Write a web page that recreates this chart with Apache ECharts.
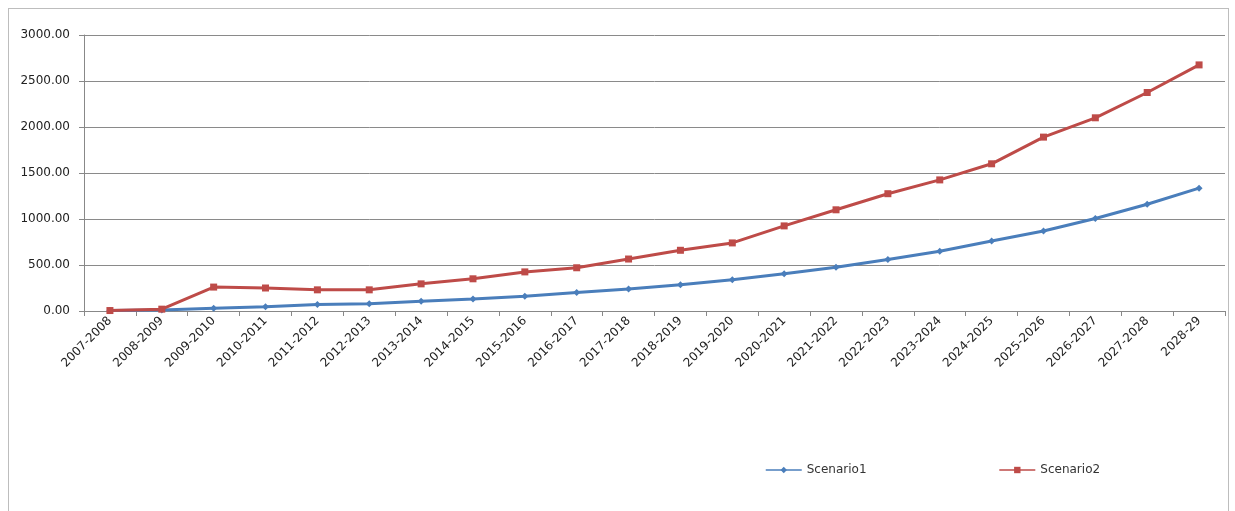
<!DOCTYPE html>
<html><head><meta charset="utf-8">
<script src="https://cdn.jsdelivr.net/npm/echarts@6/dist/echarts.min.js"></script>
<style>
html,body{margin:0;padding:0;background:#fff;}
#frame{position:absolute;left:8px;top:8px;width:1221px;height:510px;border:1px solid #bdbdbd;box-sizing:border-box;}
#c{position:absolute;left:0;top:0;width:1235px;height:511px;}
</style></head>
<body>
<div id="frame"></div>
<div id="c"></div>
<script>
const categories = ["2007-2008","2008-2009","2009-2010","2010-2011","2011-2012","2012-2013","2013-2014","2014-2015","2015-2016","2016-2017","2017-2018","2018-2019","2019-2020","2020-2021","2021-2022","2022-2023","2023-2024","2024-2025","2025-2026","2026-2027","2027-2028","2028-29"];
const scenario1 = [5,10,30,45,70,80,105,130,160,200,240,285,340,405,475,560,650,760,870,1005,1160,1335];
const scenario2 = [5,20,260,250,230,230,295,350,425,470,565,660,740,925,1100,1275,1425,1600,1890,2100,2375,2675];
const yTicks = {min:0, max:3000, interval:500};

const chart = echarts.init(document.getElementById('c'), null, {renderer:'canvas'});
chart.setOption({
  animation:false,
  textStyle:{fontFamily:'DejaVu Sans'},
  grid:{left:84, right:10, top:35, bottom:200, containLabel:false},
  legend:{
    left:760, top:459, itemWidth:36, itemHeight:8, itemGap:132,
    lineStyle:{width:1.5},
    textStyle:{fontSize:12, color:'#333', fontFamily:'DejaVu Sans'},
    data:[{name:'Scenario1'},{name:'Scenario2'}]
  },
  xAxis:{
    type:'category', data:categories, boundaryGap:true,
    axisLine:{lineStyle:{color:'#888', width:1}},
    axisTick:{show:true, length:5, lineStyle:{color:'#888'}},
    axisLabel:{rotate:45, fontSize:12, color:'#222', margin:8, interval:0},
    splitLine:{show:false}
  },
  yAxis:{
    type:'value', min:yTicks.min, max:yTicks.max, interval:yTicks.interval,
    axisLine:{show:true, lineStyle:{color:'#888'}},
    axisTick:{show:true, length:5, lineStyle:{color:'#888'}},
    axisLabel:{fontSize:12, color:'#222', margin:14, formatter:v=>v.toFixed(2)},
    splitLine:{lineStyle:{color:'#8a8a8a', width:1}}
  },
  series:[
    {name:'Scenario1', type:'line', data:scenario1, color:'#4a7ebb',
     symbol:'diamond', symbolSize:7, lineStyle:{width:3, color:'#4a7ebb'},
     itemStyle:{color:'#4a7ebb'}},
    {name:'Scenario2', type:'line', data:scenario2, color:'#be4b48',
     symbol:'rect', symbolSize:7, lineStyle:{width:3, color:'#be4b48'},
     itemStyle:{color:'#be4b48'}}
  ]
});
</script>
</body></html>
